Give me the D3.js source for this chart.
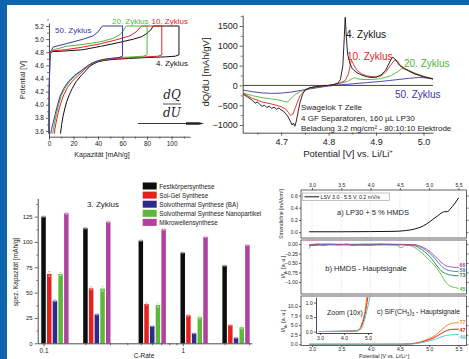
<!DOCTYPE html>
<html>
<head>
<meta charset="utf-8">
<script src="https://cdn.jsdelivr.net/npm/d3@7"></script>
<style>
  body { margin: 0; background: #fff; }
  svg { display: block; font-family: "Liberation Sans", Arial, sans-serif; }
</style>
</head>
<body>
<svg id="chart" width="469" height="359"></svg>
<script>
// ---- panel 1: charge / discharge curves [capacity mAh/g, potential V]
const capLabels = ['4. Zyklus', '10. Zyklus', '20. Zyklus', '50. Zyklus'];
const capZyklus4 = [[0,3.56],[0.2,4.2],[0.6,4.65],[1.2,4.78],[2.5,4.81],[14,4.82],[28,4.84],[42,4.89],[55,4.94],[69,5.0],[76,5.04],[80,5.09],[83,5.14],[85,5.2],[106,5.2],
  [106,4.76],[103,4.74],[95,4.73],[80,4.72],[65,4.705],[52,4.69],[45,4.675],[40,4.655],[36,4.62],[33,4.58],[30,4.52],[26,4.44],[22,4.35],[19,4.25],[16.5,4.15],[14.5,4.05],[13,3.95],[11.5,3.83],[10.3,3.7],[9.4,3.56]];
const capZyklus10 = [[0,3.56],[0.2,4.2],[0.6,4.65],[1.2,4.78],[2.5,4.82],[14,4.84],[28,4.88],[42,4.93],[55,4.99],[66,5.05],[71,5.11],[74,5.17],[75.5,5.2],[92,5.2],
  [92,4.76],[89,4.74],[80,4.73],[65,4.715],[52,4.7],[45,4.685],[40,4.665],[36,4.63],[33,4.6],[29,4.54],[24,4.45],[19,4.36],[15,4.26],[12,4.15],[9.5,4.02],[7.5,3.88],[6,3.75],[4.9,3.64],[4.4,3.56]];
const capZyklus20 = [[0,3.56],[0.2,4.2],[0.6,4.65],[1.2,4.79],[2.5,4.83],[14,4.89],[28,4.92],[42,4.96],[52,5.01],[58,5.07],[61,5.14],[63,5.2],[80,5.2],
  [80,4.76],[77,4.74],[68,4.73],[55,4.715],[46,4.695],[40,4.67],[35,4.63],[32,4.6],[28,4.54],[22,4.45],[17,4.36],[13,4.25],[10,4.14],[7.8,4.0],[6,3.85],[4.5,3.72],[3.4,3.6],[3,3.56]];
const capZyklus50 = [[0,3.56],[0.2,4.2],[0.6,4.68],[1,4.8],[3.5,4.88],[14,4.93],[28,5.0],[36,5.05],[40,5.11],[43,5.19],[44,5.2],[60,5.2],
  [60,4.74],[57,4.72],[50,4.705],[44,4.69],[39,4.665],[35,4.635],[32,4.6],[27,4.53],[21,4.45],[16,4.36],[12,4.25],[9,4.13],[7,4.0],[5,3.85],[3.3,3.72],[2,3.62],[1.5,3.56]];
const capTicksX = [0, 20, 40, 60, 80, 100];
const capTicksY = [3.6, 3.8, 4.0, 4.2, 4.4, 4.6, 4.8, 5.0, 5.2];

// ---- panel 2: dQ/dU [potential V, mAh/gV]
const dqZyklus4 = [[4.62,-220],[4.63,-300],[4.64,-380],[4.645,-450],[4.65,-420],[4.655,-480],[4.66,-530],[4.665,-500],[4.67,-560],[4.675,-520],[4.68,-580],[4.685,-550],[4.69,-600],[4.695,-570],[4.70,-620],[4.705,-650],[4.71,-720],[4.715,-800],[4.72,-920],[4.723,-1000],[4.726,-950],[4.729,-1030],[4.732,-900],[4.736,-650],[4.74,-420],[4.745,-230],[4.75,-120],[4.76,-60],[4.78,-20],[4.80,0],[4.81,20],[4.82,60],[4.825,150],[4.83,500],[4.833,1200],[4.835,1720],[4.837,1300],[4.84,800],[4.845,550],[4.85,420],[4.86,320],[4.87,260],[4.88,220],[4.89,200],[4.90,210],[4.91,260],[4.92,380],[4.93,620],[4.935,720],[4.94,660],[4.945,580],[4.95,500],[4.96,420],[4.97,360],[4.98,300],[4.99,260],[5.0,220],[5.01,190],[5.02,160]];
const dqZyklus10 = [[4.62,-200],[4.64,-330],[4.66,-420],[4.68,-470],[4.69,-500],[4.70,-540],[4.71,-600],[4.715,-680],[4.72,-760],[4.725,-720],[4.73,-560],[4.735,-400],[4.74,-260],[4.75,-130],[4.76,-60],[4.78,-20],[4.80,0],[4.82,40],[4.835,120],[4.842,300],[4.848,640],[4.853,520],[4.86,380],[4.87,290],[4.88,240],[4.90,210],[4.91,240],[4.92,330],[4.93,500],[4.94,650],[4.945,620],[4.95,520],[4.96,430],[4.97,360],[4.98,300],[5.0,220],[5.02,160]];
const dqZyklus20 = [[4.62,-190],[4.64,-260],[4.66,-310],[4.68,-340],[4.70,-380],[4.71,-420],[4.715,-410],[4.72,-330],[4.73,-230],[4.74,-160],[4.75,-100],[4.77,-40],[4.80,0],[4.82,40],[4.84,100],[4.85,170],[4.855,200],[4.86,170],[4.87,150],[4.89,150],[4.91,170],[4.93,240],[4.945,340],[4.955,430],[4.965,400],[4.98,320],[5.0,230],[5.02,170]];
const dqZyklus50 = [[4.62,-120],[4.64,-160],[4.66,-190],[4.68,-200],[4.70,-195],[4.72,-170],[4.74,-130],[4.76,-90],[4.78,-50],[4.80,-15],[4.82,10],[4.85,40],[4.88,70],[4.91,100],[4.94,140],[4.97,180],[4.99,200],[5.0,195],[5.02,170]];
const dqTicksX = [4.7, 4.8, 4.9, 5.0];
const dqTicksY = [-1000, -500, 0, 500, 1000, 1500];
const dqNotes = ['Swagelok T Zelle', '4 GF Separatoren, 160 µL LP30', 'Beladung 3.2 mg/cm² - 80:10:10 Elektrode'];

// ---- panel 3: capacity vs C-rate (3. Zyklus)
const cRates = [0.1, 0.2, 0.5, 1, 2];
const synthNames = ['Festkörpersynthese', 'Sol-Gel Synthese', 'Solvothermal Synthese (BA)', 'Solvothermal Synthese Nanopartikel', 'Mikrowellensynthese'];
const festkoerper = [125, 113.5, 101.3, 89.4, 76.6];
const solGel = [68.4, 54.3, 38.8, 27.6, 18];
const solvoBA = [42, 28.6, 17, 9.9, 5.5];
const solvoNano = [68.4, 54, 37.8, 25.7, 15.8];
const mikrowelle = [128.3, 120, 112.5, 105, 97];
const festkoerperErr = [0.6, 0.6, 0.6, 0.5, 0.5];
const solGelErr = [2.5, 1.5, 1, 0.8, 0.6];
const solvoBAErr = [1, 0.6, 0.5, 0.4, 0.4];
const solvoNanoErr = [1.5, 2.5, 2, 1.5, 1.5];
const mikrowelleErr = [1, 1, 0.8, 0.6, 0.6];
const capTicksBar = [0, 25, 50, 75, 100, 125];

// ---- panel 4: LSV + mass signals [potential V, value]
const lsvCurrent = [[2.95,0.005],[3.5,0.005],[4.0,0.008],[4.4,0.012],[4.6,0.025],[4.75,0.05],[4.85,0.08],[4.95,0.13],[5.05,0.2],[5.15,0.27],[5.22,0.32],[5.26,0.335],[5.31,0.335],[5.36,0.38],[5.43,0.46],[5.5,0.56]];
const hmdsNames = ['66', '59', '73', '45'];
const hmds66 = [[2.95,-0.02],[3.2,0],[3.6,-0.01],[4.0,0],[4.5,-0.01],[4.75,-0.02],[4.85,-0.06],[4.95,-0.13],[5.05,-0.25],[5.15,-0.4],[5.22,-0.5],[5.28,-0.57],[5.35,-0.6],[5.5,-0.62]];
const hmds59 = [[2.95,-0.03],[3.3,-0.01],[3.8,-0.02],[4.3,-0.01],[4.75,-0.02],[4.85,-0.08],[4.95,-0.17],[5.05,-0.3],[5.15,-0.48],[5.22,-0.6],[5.3,-0.68],[5.38,-0.71],[5.5,-0.73]];
const hmds73 = [[2.95,-0.04],[3.4,-0.02],[3.9,-0.03],[4.4,-0.02],[4.72,-0.03],[4.82,-0.1],[4.92,-0.2],[5.02,-0.35],[5.12,-0.55],[5.2,-0.7],[5.28,-0.78],[5.38,-0.82],[5.5,-0.84]];
const hmds45 = [[2.95,-0.12],[3.0,-0.02],[3.1,0.0],[3.2,-0.04],[3.3,-0.01],[3.45,-0.03],[3.6,0.0],[3.7,-0.04],[3.85,-0.01],[4.0,-0.03],[4.15,0.0],[4.3,-0.02],[4.45,-0.03],[4.52,-0.1],[4.6,-0.03],[4.7,-0.05],[4.78,-0.12],[4.85,-0.2],[4.92,-0.3],[5.0,-0.42],[5.08,-0.55],[5.15,-0.68],[5.22,-0.85],[5.28,-1.0],[5.35,-1.1],[5.45,-1.15],[5.5,-1.17]];
const sifNames = ['77', '47', '49'];
const sif77 = [[2.95,0],[4.5,0.02],[4.65,0.1],[4.75,0.3],[4.85,0.6],[4.92,1.0],[5.0,1.5],[5.1,2.3],[5.2,3.6],[5.28,4.7],[5.35,5.3],[5.42,5.55],[5.5,5.65]];
const sif47 = [[2.95,0],[4.5,0.02],[4.68,0.1],[4.78,0.3],[4.88,0.6],[4.96,1.0],[5.05,1.5],[5.15,2.3],[5.25,3.2],[5.32,3.7],[5.4,3.9],[5.5,3.95]];
const sif49 = [[2.95,0],[4.5,0.02],[4.72,0.1],[4.82,0.3],[4.92,0.6],[5.02,0.95],[5.12,1.4],[5.22,2.0],[5.3,2.35],[5.4,2.5],[5.5,2.55]];
const lsvTicksX = [3.0, 3.5, 4.0, 4.5, 5.0, 5.5];
const lsvTicksA = [0.0, 0.2, 0.4, 0.6];
const lsvTicksB = [0.0, -0.25, -0.5, -0.75, -1.0];
const lsvTicksC = [0.0, 2.5, 5.0, 7.5, 10.0];
const insetTicksX = [3, 4, 5];
const insetTicksY = [0.0, 0.5, 1.0];

// ------------------------------------------------------------------
const svg = d3.select('#chart');
svg.append('rect').attr('width', 469).attr('height', 359).attr('fill', '#fff');
svg.append('rect').attr('width', 469).attr('height', 5).attr('fill', '#0d65ad');
svg.append('rect').attr('width', 7).attr('height', 359).attr('fill', '#0d65ad');

const ink = '#222';
const black = '#111', red = '#e3211d', green = '#4fb537', blue = '#3a35a6';

function styleAxis(g, fs) {
  g.select('.domain').attr('stroke', ink).attr('stroke-width', 0.8);
  g.selectAll('.tick line').attr('stroke', ink).attr('stroke-width', 0.7);
  g.selectAll('text').attr('font-size', fs).attr('fill', ink).attr('font-family', '"Liberation Sans", Arial, sans-serif');
  return g;
}
function minor(g, axis) {
  g.call(axis.tickFormat('')).selectAll('.domain').remove();
  g.selectAll('line').attr('stroke', ink).attr('stroke-width', 0.6);
}
function label(x, y, txt, fs, color, anchor, rot) {
  const t = svg.append('text').attr('font-size', fs).attr('fill', color || ink)
    .attr('text-anchor', anchor || 'start').text(txt);
  if (rot) t.attr('transform', `translate(${x},${y}) rotate(${rot})`);
  else t.attr('x', x).attr('y', y);
  return t;
}

// ---------------- panel 1
const x1 = d3.scaleLinear().domain([0, 115]).range([49, 190]);
const y1 = d3.scaleLinear().domain([3.513, 5.246]).range([136.7, 23]);
const line1 = d3.line().x(d => x1(d[0])).y(d => y1(d[1]));

svg.append('g').attr('transform', 'translate(0,136.7)')
  .call(g => minor(g, d3.axisBottom(x1).tickValues([10, 30, 50, 70, 90, 110]).tickSize(2)));
styleAxis(svg.append('g').attr('transform', 'translate(0,136.7)')
  .call(d3.axisBottom(x1).tickValues(capTicksX).tickSize(3).tickPadding(2).tickSizeOuter(0)), 6.5);
svg.append('g').attr('transform', 'translate(49,0)')
  .call(g => minor(g, d3.axisLeft(y1).tickValues(capTicksY.map(v => v + 0.1)).tickSize(2)));
styleAxis(svg.append('g').attr('transform', 'translate(49,0)')
  .call(d3.axisLeft(y1).tickValues(capTicksY).tickFormat(d3.format('.1f')).tickSize(3).tickPadding(2).tickSizeOuter(0)), 6.5);

[[capZyklus4, black], [capZyklus10, red], [capZyklus20, green], [capZyklus50, blue]].forEach(([d, c]) => {
  svg.append('path').datum(d).attr('d', line1).attr('fill', 'none').attr('stroke', c).attr('stroke-width', 1);
});
label(102, 157, 'Kapazität [mAh/g]', 7, ink, 'middle');
label(25, 80, 'Potential [V]', 7, ink, 'middle', -90);
label(55, 32.5, capLabels[3], 8, blue);
label(112, 23.5, capLabels[2], 8, green);
label(151.5, 23.5, capLabels[1], 8, red);
label(156, 66, capLabels[0], 8, black);

// dQ/dU fraction + arrow
const frac = svg.append('g').attr('font-family', '"DejaVu Serif", "Liberation Serif", serif')
  .attr('font-style', 'italic').attr('font-size', 12).attr('text-anchor', 'middle').attr('fill', ink);
frac.append('text').attr('x', 172).attr('y', 99).text('dQ');
frac.append('text').attr('x', 172).attr('y', 117).text('dU');
svg.append('line').attr('x1', 163).attr('x2', 181).attr('y1', 104).attr('y2', 104).attr('stroke', ink).attr('stroke-width', 0.8);
svg.append('line').attr('x1', 138).attr('x2', 198).attr('y1', 123.5).attr('y2', 123.5).attr('stroke', ink).attr('stroke-width', 0.9);
svg.append('path').attr('d', 'M186,122.3 L199,122.3 L204,123.5 L199,124.7 L186,124.7 Z').attr('fill', ink);

// ---------------- panel 2
const x2 = d3.scaleLinear().domain([4.619, 5.02]).range([242.7, 433]);
const y2 = d3.scaleLinear().domain([-1194, 1778]).range([132.7, 15]);
const line2 = d3.line().x(d => x2(d[0])).y(d => y2(d[1]));

svg.append('g').attr('transform', 'translate(0,132.7)')
  .call(g => minor(g, d3.axisBottom(x2).tickValues([4.65, 4.75, 4.85, 4.95]).tickSize(2)));
styleAxis(svg.append('g').attr('transform', 'translate(0,132.7)')
  .call(d3.axisBottom(x2).tickValues(dqTicksX).tickFormat(d3.format('.1f')).tickSize(3).tickPadding(3).tickSizeOuter(0)), 9);
svg.append('g').attr('transform', 'translate(242.7,0)')
  .call(g => minor(g, d3.axisLeft(y2).tickValues(dqTicksY.map(v => v + 250)).tickSize(2)));
styleAxis(svg.append('g').attr('transform', 'translate(242.7,0)')
  .call(d3.axisLeft(y2).tickValues(dqTicksY).tickFormat(d3.format('d')).tickSize(3).tickPadding(2).tickSizeOuter(0)), 9);

svg.append('line').attr('x1', x2(4.62)).attr('x2', x2(5.02)).attr('y1', y2(0)).attr('y2', y2(0))
  .attr('stroke', blue).attr('stroke-width', 1);
[[dqZyklus50, blue], [dqZyklus20, green], [dqZyklus10, red], [dqZyklus4, black]].forEach(([d, c]) => {
  svg.append('path').datum(d).attr('d', line2).attr('fill', 'none').attr('stroke', c).attr('stroke-width', 0.9);
});
label(346, 38, '4. Zyklus', 10, black);
label(347, 60, '10. Zyklus', 10, red);
label(404, 67, '20. Zyklus', 10, green);
label(395, 98, '50. Zyklus', 10, blue);
dqNotes.forEach((t, i) => label(301, 110 + i * 10.5, t, 8, ink));
label(209, 72, 'dQ/dU [mAh/gV]', 9.5, ink, 'middle', -90);
const xl2 = label(348, 157, 'Potential [V] vs. Li/Li', 9.5, ink, 'middle');
xl2.append('tspan').attr('font-size', 6).attr('dy', -4).text('+');

// ---------------- panel 3
const barSeries = [
  [festkoerper, festkoerperErr, '#0d0d0d', '#9a9a9a'],
  [solGel, solGelErr, '#e3211d', '#f0a0a0'],
  [solvoBA, solvoBAErr, '#2f2a8c', '#b0aee0'],
  [solvoNano, solvoNanoErr, '#5cb83a', '#c4e6b8'],
  [mikrowelle, mikrowelleErr, '#b0429e', '#e6b6de']
];
const x3 = d3.scaleLog().domain([0.0908, 3.13]).range([37.7, 251.7]);
const y3 = d3.scaleLinear().domain([0, 143]).range([343.3, 198.4]);
const off3 = d3.scalePoint().domain(synthNames).range([0, 22.8]);
const bw = 4.5;

barSeries.forEach(([vals, errs, col, ecol], si) => {
  const g = svg.append('g');
  const o = off3(synthNames[si]);
  g.selectAll('rect').data(cRates).enter().append('rect')
    .attr('x', (d) => x3(d) + o - bw / 2)
    .attr('y', (d, i) => y3(vals[i]))
    .attr('width', bw)
    .attr('height', (d, i) => y3(0) - y3(vals[i]))
    .attr('fill', col);
  g.selectAll('path').data(cRates).enter().append('path')
    .attr('d', (d, i) => {
      const cx = x3(d) + o, t = y3(vals[i] + errs[i]), b = y3(vals[i] - errs[i]);
      return `M${cx - 1.5},${t}H${cx + 1.5}M${cx},${t}V${b}M${cx - 1.5},${b}H${cx + 1.5}`;
    })
    .attr('stroke', ecol).attr('stroke-width', 0.7).attr('fill', 'none');
});
svg.append('g').attr('transform', 'translate(0,343.3)')
  .call(g => minor(g, d3.axisBottom(x3).tickValues([0.2, 0.3, 0.4, 0.5, 0.6, 0.7, 0.8, 0.9, 2, 3]).tickSize(2)));
styleAxis(svg.append('g').attr('transform', 'translate(0,343.3)')
  .call(d3.axisBottom(x3).tickValues([0.1, 1]).tickFormat(d3.format('')).tickSize(3).tickPadding(2).tickSizeOuter(0)), 6.5);
svg.append('g').attr('transform', 'translate(37.7,0)')
  .call(g => minor(g, d3.axisLeft(y3).tickValues(capTicksBar.map(v => v + 12.5)).tickSize(1.5)));
styleAxis(svg.append('g').attr('transform', 'translate(37.7,0)')
  .call(d3.axisLeft(y3).tickValues(capTicksBar).tickSize(3).tickPadding(2).tickSizeOuter(0)), 6);
label(87, 207, '3. Zyklus', 8, ink);
label(144, 357.5, 'C-Rate', 6.5, ink, 'middle');
label(18, 272, 'spez. Kapazität [mAh/g]', 6.5, ink, 'middle', -90);

const leg = svg.append('g').attr('transform', 'translate(142.7,182.5)');
synthNames.forEach((n, i) => {
  leg.append('rect').attr('x', 0).attr('y', i * 9.1).attr('width', 14).attr('height', 7).attr('fill', barSeries[i][2]);
  leg.append('text').attr('x', 16.5).attr('y', i * 9.1 + 6.2).attr('font-size', 6.3).attr('fill', ink).text(n);
});

// ---------------- panel 4
const x4 = d3.scaleLinear().domain([2.812, 5.637]).range([301, 466.5]);
const y4a = d3.scaleLinear().domain([-0.097, 0.69]).range([238, 190]);
const y4b = d3.scaleLinear().domain([-1.317, 0.105]).range([294, 240]);
const y4c = d3.scaleLinear().domain([-0.31, 12.6]).range([345.5, 296]);

const defs = svg.append('defs');
[['clipA', y4a], ['clipB', y4b], ['clipC', y4c]].forEach(([id, ys]) => {
  defs.append('clipPath').attr('id', id).append('rect')
    .attr('x', 301).attr('width', 165.5).attr('y', ys.range()[1]).attr('height', ys.range()[0] - ys.range()[1]);
});

// dotted vertical grid
[y4a, y4b, y4c].forEach(ys => {
  svg.append('g').selectAll('line').data(lsvTicksX).enter().append('line')
    .attr('x1', d => x4(d)).attr('x2', d => x4(d)).attr('y1', ys.range()[1]).attr('y2', ys.range()[0])
    .attr('stroke', '#bbb').attr('stroke-width', 0.5).attr('stroke-dasharray', '1,1.5');
});

function subplot(ys, ticks, fmt, clip) {
  svg.append('rect').attr('x', 301).attr('y', ys.range()[1]).attr('width', 165.5)
    .attr('height', ys.range()[0] - ys.range()[1]).attr('fill', 'none').attr('stroke', ink).attr('stroke-width', 0.7);
  styleAxis(svg.append('g').attr('transform', 'translate(301,0)')
    .call(d3.axisLeft(ys).tickValues(ticks).tickFormat(d3.format(fmt)).tickSize(2).tickPadding(1.2).tickSizeOuter(0)), 5)
    .select('.domain').remove();
  svg.append('g').attr('transform', 'translate(466.5,0)')
    .call(g => minor(g, d3.axisRight(ys).tickValues(ticks).tickSize(2)));
  return svg.append('g').attr('clip-path', `url(#${clip})`);
}

const gA = subplot(y4a, lsvTicksA, '.1f', 'clipA');
const gB = subplot(y4b, lsvTicksB, '.2f', 'clipB');
const gC = subplot(y4c, lsvTicksC, '.1f', 'clipC');

styleAxis(svg.append('g').attr('transform', 'translate(0,190)')
  .call(d3.axisTop(x4).tickValues(lsvTicksX).tickFormat(d3.format('.1f')).tickSize(2).tickPadding(1.2).tickSizeOuter(0)), 5)
  .select('.domain').remove();
styleAxis(svg.append('g').attr('transform', 'translate(0,345.5)')
  .call(d3.axisBottom(x4).tickValues(lsvTicksX).tickFormat(d3.format('.1f')).tickSize(1.5).tickPadding(0.8).tickSizeOuter(0)), 5)
  .select('.domain').remove();

const lineA = d3.line().curve(d3.curveMonotoneX).x(d => x4(d[0])).y(d => y4a(d[1]));
const lineB = d3.line().curve(d3.curveMonotoneX).x(d => x4(d[0])).y(d => y4b(d[1]));
const lineC = d3.line().curve(d3.curveMonotoneX).x(d => x4(d[0])).y(d => y4c(d[1]));

gA.append('path').datum(lsvCurrent).attr('d', lineA).attr('fill', 'none').attr('stroke', black).attr('stroke-width', 1);
const hmdsCols = ['#b8449c', '#2f7fb8', '#237a55', '#5ab534'];
[hmds45, hmds73, hmds59, hmds66].forEach((d, i) => {
  gB.append('path').datum(d).attr('d', lineB).attr('fill', 'none').attr('stroke', hmdsCols[3 - i]).attr('stroke-width', 0.9);
});
const sifCols = ['#f28a1a', '#e3211d', '#5cc6cf'];
[sif77, sif47, sif49].forEach((d, i) => {
  gC.append('path').datum(d).attr('d', lineC).attr('fill', 'none').attr('stroke', sifCols[i]).attr('stroke-width', 1);
});

// end labels
const hmdsLabelY = [-0.57, -0.7, -0.83, -1.18];
hmdsNames.forEach((n, i) => label(459.5, y4b(hmdsLabelY[i]) + 1.8, n, 5.3, hmdsCols[i]).attr('font-weight', 'bold'));
const sifLabelY = [5.7, 3.7, 1.8];
sifNames.forEach((n, i) => label(459.5, y4c(sifLabelY[i]) + 1.8, n, 5.5, sifCols[i]).attr('font-weight', 'bold'));

// legend box in a
svg.append('rect').attr('x', 302.5).attr('y', 193).attr('width', 87).attr('height', 7.5)
  .attr('fill', '#fff').attr('stroke', '#888').attr('stroke-width', 0.5);
svg.append('line').attr('x1', 304.5).attr('x2', 319).attr('y1', 196.8).attr('y2', 196.8).attr('stroke', black).attr('stroke-width', 1);
label(320.5, 199, 'LSV 3.0 - 5.5 V, 0.2 mV/s', 5.3, ink);
label(373, 215, 'a) LP30 + 5 % HMDS', 7.5, ink, 'middle');
label(366, 270.5, 'b) HMDS - Hauptsignale', 7.5, ink, 'middle');

label(283, 214, 'Stromdichte [mA/cm²]', 5.2, ink, 'middle', -90);
[267, 321].forEach(cy => {
  const lb = label(285, cy, 'I/I', 5.2, ink, 'middle', -90);
  lb.append('tspan').attr('font-size', 3.8).attr('dy', 1.5).text('Ar');
  lb.append('tspan').attr('dy', -1.5).text(' [a. u.]');
});
const xl4 = label(384, 358.3, 'Potential [V vs. Li/Li', 5.3, ink, 'middle');
xl4.append('tspan').attr('font-size', 3.8).attr('dy', -2).text('+');
xl4.append('tspan').attr('dy', 2).text(']');

// inset zoom (10x)
const xi = d3.scaleLinear().domain([2.833, 5.167]).range([316, 372]);
const yi = d3.scaleLinear().domain([-0.05, 1.19]).range([333, 297]);
svg.append('rect').attr('x', 316).attr('y', 297).attr('width', 56).attr('height', 36).attr('fill', '#fff');
defs.append('clipPath').attr('id', 'clipI').append('rect').attr('x', 316).attr('y', 297).attr('width', 56).attr('height', 36);
const lineI = d3.line().curve(d3.curveMonotoneX).x(d => xi(d[0])).y(d => yi(d[1]));
const gI = svg.append('g').attr('clip-path', 'url(#clipI)');
[sif77, sif47, sif49].forEach((d, i) => {
  gI.append('path').datum(d).attr('d', lineI).attr('fill', 'none').attr('stroke', sifCols[i]).attr('stroke-width', 1);
});
styleAxis(svg.append('g').attr('transform', 'translate(316,0)')
  .call(d3.axisLeft(yi).tickValues(insetTicksY).tickFormat(d3.format('.1f')).tickSize(2).tickPadding(1.2).tickSizeOuter(0)), 5);
styleAxis(svg.append('g').attr('transform', 'translate(0,333)')
  .call(d3.axisBottom(xi).tickValues(insetTicksX).tickSize(2).tickPadding(1.2).tickSizeOuter(0)), 5);
label(327, 315, 'Zoom (10x)', 7, ink);

const cl = label(377, 313.5, 'c) SiF(CH', 6.8, ink);
cl.append('tspan').attr('font-size', 4.6).attr('dy', 2).text('3');
cl.append('tspan').attr('dy', -2).text(')');
cl.append('tspan').attr('font-size', 4.6).attr('dy', 2).text('3');
cl.append('tspan').attr('dy', -2).text(' - Hauptsignale');
</script>
</body>
</html>
